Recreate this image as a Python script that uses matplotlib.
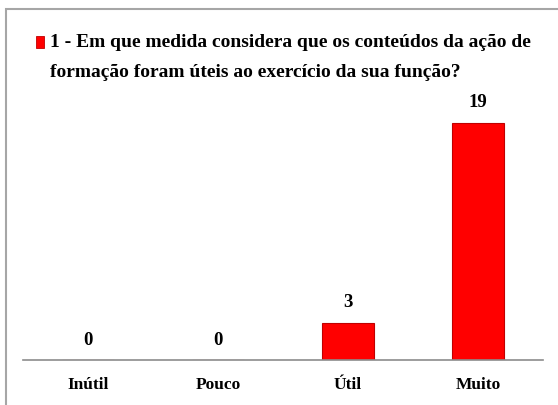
import matplotlib
matplotlib.use('Agg')
import matplotlib.pyplot as plt
from matplotlib.patches import Rectangle

categories = ['Inútil', 'Pouco', 'Útil', 'Muito']
values = [0, 0, 3, 19]
series_label = ('1 - Em que medida considera que os conteúdos da ação de\n'
                'formação foram úteis ao exercício da sua função?')

W, H = 558, 405
fig = plt.figure(figsize=(W / 100, H / 100), dpi=100)
plt.rcParams['font.family'] = 'Liberation Serif'

# outer chart frame (runs off the right and bottom edges)
fig.patches.append(Rectangle((6 / W, -0.2), 1.2, 1.2 - 9 / H, transform=fig.transFigure,
                             fill=False, edgecolor='#a6a6a6', linewidth=1.5))

ax = fig.add_axes([23 / W, 45 / H, 520 / W, 250 / H])
x = range(len(categories))
bars = ax.bar(x, values, width=0.4, color='#ff0000', edgecolor='#c00000', linewidth=0.8)
ax.set_xlim(-0.5, len(categories) - 0.5)
ax.set_ylim(0, 20)
ax.set_yticks([])
for s in ['left', 'right', 'top']:
    ax.spines[s].set_visible(False)
ax.spines['bottom'].set_color('#8c8c8c')
ax.spines['bottom'].set_linewidth(1.2)
ax.set_xticks(list(x))
ax.set_xticklabels(categories, fontsize=12.5, fontweight='bold')
ax.tick_params(axis='x', length=0, pad=12)

for xi, v in zip(x, values):
    ax.annotate(str(v), (xi, v), xytext=(0, 8), textcoords='offset points',
                ha='center', va='bottom', fontsize=13.5, fontweight='bold')

# legend: square + two-line title
fig.patches.append(Rectangle((36 / W, 1 - 48 / H), 8 / W, 12 / H, transform=fig.transFigure,
                             facecolor='#ff0000', edgecolor='#c00000', linewidth=0.6))
fig.text(50 / W, 1 - 57.5 / H, series_label, ha='left', va='center', fontsize=14,
         fontweight='bold', linespacing=2.0, transform=fig.transFigure)

fig.savefig('out.png', dpi=100)
